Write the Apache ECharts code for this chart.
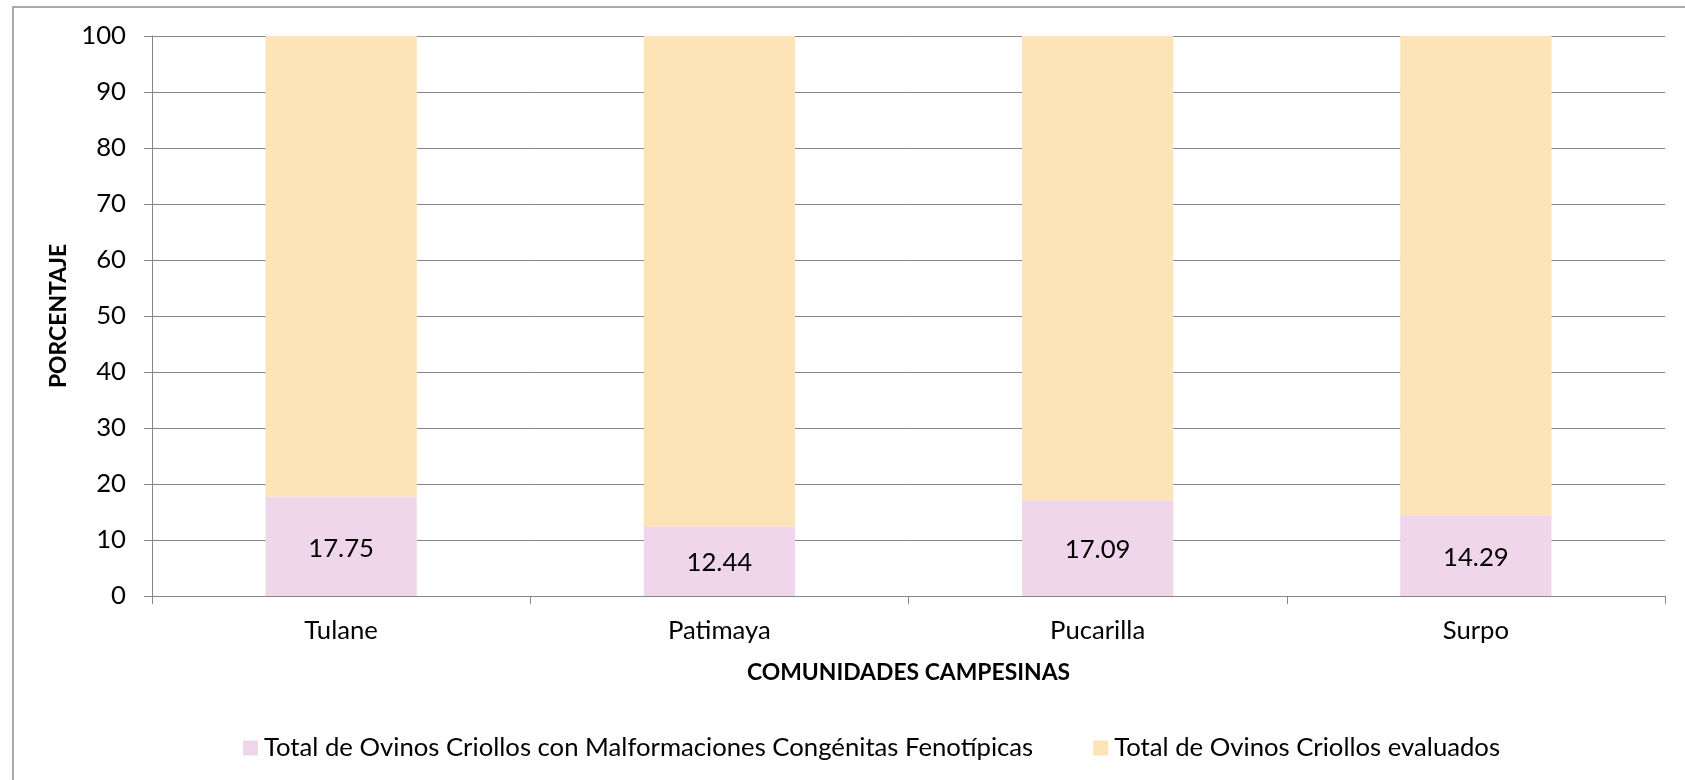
<!DOCTYPE html>
<html>
<head>
<meta charset="utf-8">
<script src="https://cdn.jsdelivr.net/npm/echarts@6/dist/echarts.min.js"></script>
<style>
html,body{margin:0;padding:0;background:#fff;}
#c{width:1685px;height:780px;}
</style>
</head>
<body>
<div id="c"></div>
<script>
const categories = ['Tulane', 'Patimaya', 'Pucarilla', 'Surpo'];
const seriesNames = ['Total de Ovinos Criollos con Malformaciones Congénitas Fenotípicas', 'Total de Ovinos Criollos evaluados'];
const malformaciones = [17.75, 12.44, 17.09, 14.29];
const evaluadosResto = [82.25, 87.56, 82.91, 85.71];
const yTicks = [0, 10, 20, 30, 40, 50, 60, 70, 80, 90, 100];
const xAxisName = 'COMUNIDADES CAMPESINAS';
const yAxisName = 'PORCENTAJE';

const FONT = 'Lato';
function measure(text, size, weight) {
  const cv = document.createElement('canvas').getContext('2d');
  cv.font = (weight || 'normal') + ' ' + size + 'px ' + FONT;
  return cv.measureText(text).width;
}
function fit(text, target, weight) {
  return Math.round(100 * target / measure(text, 100, weight) * 10) / 10;
}

function draw() {
  const regSize = fit(seriesNames[0], 769, 'normal');
  const boldSize = fit(xAxisName, 324, 'bold');
  const gray = '#868686';
  const chart = echarts.init(document.getElementById('c'), null, {renderer: 'canvas'});
  chart.setOption({
    backgroundColor: '#ffffff',
    animation: false,
    textStyle: {fontFamily: FONT, color: '#000'},
    graphic: [{
      type: 'rect',
      shape: {x: 13, y: 7, width: 1700, height: 800},
      style: {fill: 'none', stroke: '#8f8f8f', lineWidth: 1.5},
      silent: true, z: -1
    }],
    grid: {left: 152, right: 20, top: 36, bottom: 184, containLabel: false},
    legend: {
      left: 238, top: 730,
      itemWidth: 15, itemHeight: 15, itemGap: 60,
      icon: 'rect',
      textStyle: {fontFamily: FONT, fontSize: regSize, color: '#000', padding: [0,0,0,1]},
      data: seriesNames
    },
    xAxis: {
      type: 'category',
      data: categories,
      name: xAxisName,
      nameLocation: 'middle',
      nameGap: 65,
      nameTextStyle: {fontFamily: FONT, fontWeight: 'bold', fontSize: boldSize, color: '#000'},
      axisLine: {show: true, lineStyle: {color: gray, width: 1}},
      axisTick: {show: true, alignWithLabel: false, length: 8, lineStyle: {color: gray}},
      axisLabel: {fontFamily: FONT, fontSize: regSize, color: '#000', margin: 22},
      splitLine: {show: false}
    },
    yAxis: {
      type: 'value',
      min: yTicks[0], max: yTicks[yTicks.length - 1], interval: 10,
      name: yAxisName,
      nameLocation: 'middle',
      nameGap: 80,
      nameRotate: 90,
      nameTextStyle: {fontFamily: FONT, fontWeight: 'bold', fontSize: boldSize, color: '#000'},
      axisLine: {show: true, lineStyle: {color: gray, width: 1}},
      axisTick: {show: true, inside: false, length: 8, lineStyle: {color: gray}},
      axisLabel: {fontFamily: FONT, fontSize: regSize, color: '#000', margin: 26},
      splitLine: {show: true, lineStyle: {color: gray, width: 1}}
    },
    series: [{
      name: seriesNames[0],
      type: 'bar',
      stack: 'total',
      barCategoryGap: '60%',
      data: malformaciones,
      itemStyle: {color: '#F0D6EB'},
      label: {show: true, position: 'inside', offset: [0, 2], fontFamily: FONT, fontSize: regSize, color: '#000', formatter: p => p.value.toFixed(2)}
    }, {
      name: seriesNames[1],
      type: 'bar',
      stack: 'total',
      barCategoryGap: '60%',
      data: evaluadosResto,
      itemStyle: {color: '#FCE4B7'},
      label: {show: false}
    }]
  });
}
if (document.fonts && document.fonts.load) {
  Promise.all([document.fonts.load('16px Lato'), document.fonts.load('bold 16px Lato')]).then(draw, draw);
} else { draw(); }
</script>
</body>
</html>
